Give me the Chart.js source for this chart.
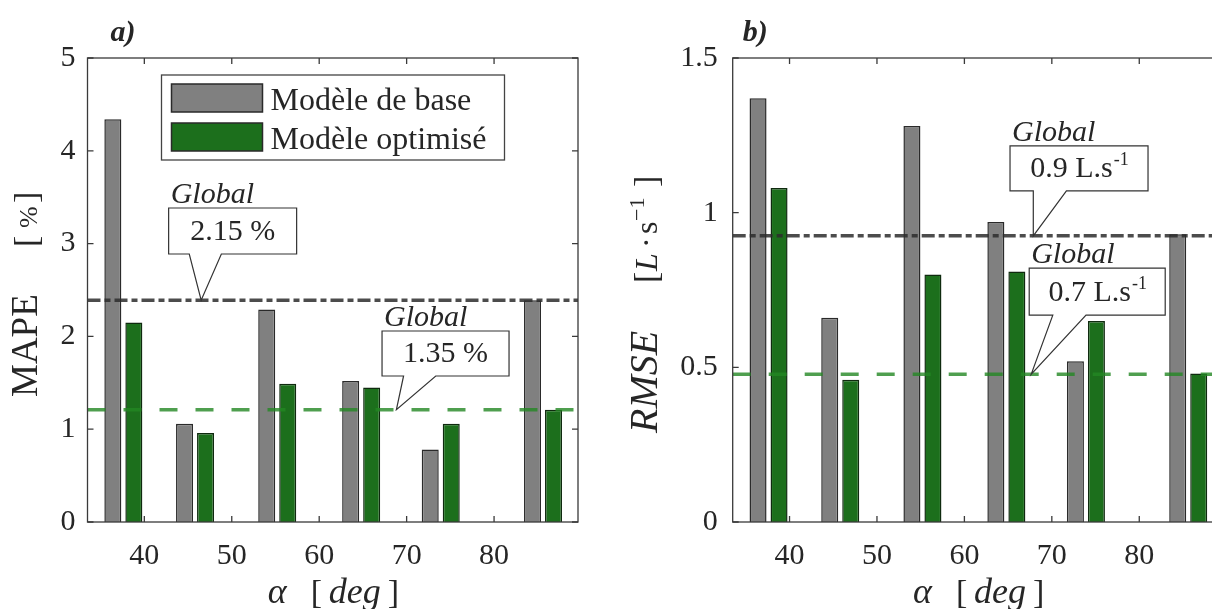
<!DOCTYPE html>
<html>
<head>
<meta charset="utf-8">
<script src="https://cdn.jsdelivr.net/npm/chart.js@4.4.1/dist/chart.umd.min.js"></script>
<style>
html, body { margin:0; padding:0; background:#fff; overflow:hidden; width:1212px; height:609px; }
#wa { position:absolute; left:0; top:0; width:606px; height:609px; }
#wb { position:absolute; left:606px; top:0; width:630px; height:609px; }
</style>
</head>
<body>
<div id="wa"><canvas id="ca"></canvas></div>
<div id="wb"><canvas id="cb"></canvas></div>
<script>
// angles of attack (deg) for each group of bars
var angles = [37.6, 45.8, 55.2, 64.8, 73.9, 85.6];
var seriesNames = ["Modèle de base", "Modèle optimisé"];

// a) MAPE [%]
var mapeBase = [4.34, 1.06, 2.29, 1.52, 0.78, 2.39];
var mapeOpt  = [2.15, 0.96, 1.49, 1.45, 1.06, 1.21];
var mapeGlobal = [2.39, 1.21];
var mapeGlobalText = ["2.15 %", "1.35 %"];

// b) RMSE [L/s]
var rmseBase = [1.37, 0.66, 1.28, 0.97, 0.52, 0.93];
var rmseOpt  = [1.08, 0.46, 0.80, 0.81, 0.65, 0.48];
var rmseGlobal = [0.925, 0.478];
var rmseGlobalText = ["0.9 L.s", "0.7 L.s"];

var xMin = 33.5, xMax = 89.6;
var xTicks = [40, 50, 60, 70, 80];

var SERIF = "'Liberation Serif', 'Times New Roman', serif";
var INK = "#262626";
var GRAY = "#808080", GREEN = "#1c6f1c";

function pts(vals){
	return angles.map(function(a, i){ return {x:a, y:vals[i]}; });
}
function level(v){
	return [{x:xMin, y:v}, {x:xMax, y:v}];
}

function makeDatasets(base, opt, glob){
	return [
		{type:"line", data:level(glob[0]), borderColor:"rgba(45,45,45,0.85)", borderWidth:3.5,
		 borderDash:[13,4,6,4], pointRadius:0, order:0},
		{type:"line", data:level(glob[1]), borderColor:"rgba(35,135,35,0.8)", borderWidth:3.5,
		 borderDash:[18,18], pointRadius:0, order:0},
		{type:"bar", label:seriesNames[0], data:pts(base), backgroundColor:GRAY, borderColor:"#2a2a2a",
		 borderWidth:1.5, categoryPercentage:0.586, barPercentage:0.81, order:1},
		{type:"bar", label:seriesNames[1], data:pts(opt), backgroundColor:GREEN, borderColor:"#0f2a0f",
		 borderWidth:1.5, categoryPercentage:0.586, barPercentage:0.81, order:1}
	];
}

function drawPieces(ctx, pieces){
	pieces.forEach(function(p){
		ctx.font = p.f;
		ctx.fillText(p.t, p.x, p.y || 0);
	});
}

function drawCallout(ctx, chart, c){
	var xs = chart.scales.x, ys = chart.scales.y;
	var cx = xs.getPixelForValue(c.cx), cy = ys.getPixelForValue(c.cy);
	var l = cx - c.w/2, r = cx + c.w/2, t = cy - c.h/2, b = cy + c.h/2;
	var b1 = xs.getPixelForValue(c.b1), b2 = xs.getPixelForValue(c.b2);
	var tx = xs.getPixelForValue(c.tx), ty = ys.getPixelForValue(c.ty);
	ctx.save();
	ctx.beginPath();
	ctx.moveTo(l, t); ctx.lineTo(r, t); ctx.lineTo(r, b); ctx.lineTo(b2, b);
	ctx.lineTo(tx, ty); ctx.lineTo(b1, b); ctx.lineTo(l, b); ctx.closePath();
	ctx.fillStyle = "#fff"; ctx.fill();
	ctx.strokeStyle = "#333"; ctx.lineWidth = 1.2; ctx.stroke();
	ctx.fillStyle = INK;
	ctx.textBaseline = "alphabetic";
	ctx.textAlign = "left";
	ctx.font = "italic 30px " + SERIF;
	ctx.fillText("Global", l + 2, t - 5);
	ctx.font = "30px " + SERIF;
	var w = ctx.measureText(c.text).width, ws = 0;
	if (c.sup){ ctx.font = "18px " + SERIF; ws = ctx.measureText(c.sup).width; }
	var sx = cx - (w + ws)/2;
	ctx.font = "30px " + SERIF;
	ctx.fillText(c.text, sx, cy + 9);
	if (c.sup){
		ctx.font = "18px " + SERIF;
		ctx.fillText(c.sup, sx + w + 1, cy - 3);
	}
	ctx.restore();
}

function panelPlugin(p){
	return {
		id: "panel" + p.tag,
		afterDatasetsDraw: function(chart){
			var ctx = chart.ctx;
			p.callouts.forEach(function(c){ drawCallout(ctx, chart, c); });
		},
		afterDraw: function(chart){
			var ctx = chart.ctx, a = chart.chartArea;
			var xs = chart.scales.x, ys = chart.scales.y;
			ctx.save();
			// frame
			ctx.strokeStyle = "#3a3a3a"; ctx.lineWidth = 1.3;
			ctx.strokeRect(a.left, a.top, a.right - a.left, a.bottom - a.top);
			// inward ticks on all four sides
			ctx.beginPath();
			xs.ticks.forEach(function(t){
				var px = xs.getPixelForValue(t.value);
				ctx.moveTo(px, a.bottom); ctx.lineTo(px, a.bottom - 6);
				ctx.moveTo(px, a.top); ctx.lineTo(px, a.top + 6);
			});
			ys.ticks.forEach(function(t){
				var py = ys.getPixelForValue(t.value);
				ctx.moveTo(a.left, py); ctx.lineTo(a.left + 6, py);
				ctx.moveTo(a.right, py); ctx.lineTo(a.right - 6, py);
			});
			ctx.stroke();

			ctx.fillStyle = INK;
			ctx.textAlign = "left";
			ctx.textBaseline = "alphabetic";
			// panel letter
			ctx.font = "bold italic 30px " + SERIF;
			ctx.fillText(p.tag + ")", a.left + p.tagDx, 41);

			// x axis title: alpha [ deg ]
			var mx = (a.left + a.right)/2;
			drawPieces(ctx, [
				{t:"α", f:"italic 36px " + SERIF, x:mx - 65, y:603},
				{t:"[", f:"34px " + SERIF, x:mx - 22, y:603},
				{t:"deg", f:"italic 36px " + SERIF, x:mx - 4, y:603},
				{t:"]", f:"34px " + SERIF, x:mx + 55, y:603}
			]);

			// y axis title, rotated
			ctx.save();
			ctx.translate(a.left - p.yTitleDx, a.bottom - p.yTitleDy);
			ctx.rotate(-Math.PI/2);
			drawPieces(ctx, p.yTitle);
			ctx.restore();

			// legend
			if (p.legend){
				var lx = a.left + 74, ly = a.top + 17;
				ctx.fillStyle = "#fff";
				ctx.fillRect(lx, ly, 343, 85);
				ctx.strokeStyle = "#444"; ctx.lineWidth = 1.3;
				ctx.strokeRect(lx, ly, 343, 85);
				var bars = chart.data.datasets.filter(function(d){ return d.type === "bar"; });
				bars.forEach(function(d, i){
					var sy = ly + 9 + i*39;
					ctx.fillStyle = d.backgroundColor;
					ctx.fillRect(lx + 10, sy, 91, 28);
					ctx.strokeStyle = "#2a2a2a"; ctx.lineWidth = 1.5;
					ctx.strokeRect(lx + 10, sy, 91, 28);
					ctx.fillStyle = INK;
					ctx.font = "32px " + SERIF;
					ctx.fillText(d.label, lx + 109, sy + 26);
				});
			}
			ctx.restore();
		}
	};
}

function makeChart(id, datasets, yMax, yStep, p){
	return new Chart(document.getElementById(id), {
		type: "bar",
		data: { datasets: datasets },
		options: {
			responsive: true,
			maintainAspectRatio: false,
			animation: false,
			layout: { padding: { left:0, top:58, right:p.padRight, bottom:0 } },
			plugins: { legend:{display:false}, tooltip:{enabled:false} },
			scales: {
				x: {
					type: "linear", min:xMin, max:xMax, offset:false,
					afterBuildTicks: function(s){ s.ticks = xTicks.map(function(v){ return {value:v}; }); },
					ticks: { font:{family:SERIF, size:30}, color:INK, padding:16 },
					grid: { display:false, drawTicks:false, offset:false },
					border: { display:false },
					afterFit: function(s){ s.height = 87; }
				},
				y: {
					min:0, max:yMax,
					ticks: { stepSize:yStep, font:{family:SERIF, size:30}, color:INK, padding:p.yPad,
						callback: function(v){ return String(v); } },
					grid: { display:false, drawTicks:false },
					border: { display:false },
					afterFit: function(s){ s.width = p.yWidth; }
				}
			}
		},
		plugins: [panelPlugin(p)]
	});
}

makeChart("ca", makeDatasets(mapeBase, mapeOpt, mapeGlobal), 5, 1, {
	tag:"a", tagDx:23, padRight:28, yWidth:87.5, yPad:12, legend:true,
	yTitleDx:50.5, yTitleDy:125,
	yTitle: [
		{t:"MAPE", f:"37px " + SERIF, x:0},
		{t:"[", f:"34px " + SERIF, x:150},
		{t:"%", f:"26px " + SERIF, x:169},
		{t:"]", f:"34px " + SERIF, x:194}
	],
	callouts: [
		{text:mapeGlobalText[0], cx:50.1, cy:3.136, w:128, h:46, b1:45.14, b2:48.81, tx:46.5, ty:mapeGlobal[0]},
		{text:mapeGlobalText[1], cx:74.45, cy:1.816, w:127, h:45, b1:69.65, b2:73.33, tx:68.83, ty:mapeGlobal[1]}
	]
});

makeChart("cb", makeDatasets(rmseBase, rmseOpt, rmseGlobal), 1.5, 0.5, {
	tag:"b", tagDx:10, padRight:12.8, yWidth:126.7, yPad:15, legend:false,
	yTitleDx:75.7, yTitleDy:89,
	yTitle: [
		{t:"RMSE", f:"italic 40px " + SERIF, x:0},
		{t:"[", f:"34px " + SERIF, x:150},
		{t:"L", f:"italic 32px " + SERIF, x:162},
		{t:"·", f:"32px " + SERIF, x:185},
		{t:"s", f:"32px " + SERIF, x:199},
		{t:"−1", f:"22px " + SERIF, x:212, y:-13},
		{t:"]", f:"34px " + SERIF, x:246}
	],
	callouts: [
		{text:rmseGlobalText[0], sup:"-1", cx:73.11, cy:1.1435, w:138, h:45, b1:67.88, b2:71.67, tx:67.88, ty:rmseGlobal[0]},
		{text:rmseGlobalText[1], sup:"-1", cx:75.19, cy:0.7446, w:136, h:47, b1:70.11, b2:73.91, tx:67.65, ty:rmseGlobal[1]}
	]
});
</script>
</body>
</html>
